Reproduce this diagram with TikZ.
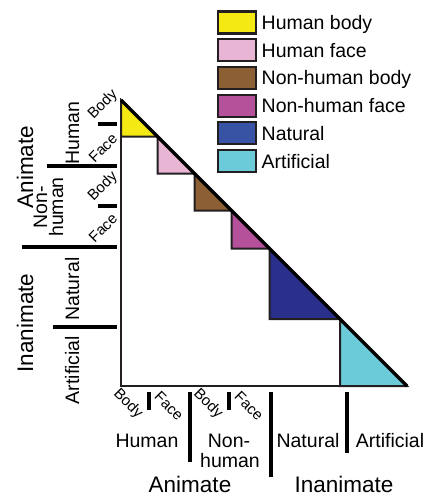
\documentclass[tikz,border=0pt]{standalone}
\usepackage{fontspec}
\setmainfont{Liberation Sans}
\definecolor{edge}{HTML}{231F20}
\definecolor{cyel}{HTML}{F4E912}
\definecolor{cpink}{HTML}{E8B5D5}
\definecolor{cbrown}{HTML}{8D5F35}
\definecolor{cmag}{HTML}{B5509B}
\definecolor{cnatl}{HTML}{3853A3}
\definecolor{cnatt}{HTML}{2B2F8C}
\definecolor{ccyan}{HTML}{6CCBD9}
\begin{document}
\begin{tikzpicture}[x=1pt,y=-1pt,line join=miter,
  lab/.style={font=\fontsize{19.5}{16}\selectfont,inner sep=0pt},
  big/.style={font=\fontsize{22.5}{24}\selectfont,inner sep=0pt},
  small/.style={font=\fontsize{15}{16}\selectfont,inner sep=0pt},
  tickline/.style={line width=3.5pt,draw=black},
  tri/.style={draw=edge,line width=2pt},
  legbox/.style={draw=edge,line width=2.2pt,minimum width=38pt,minimum height=22pt,inner sep=0pt},
]
\useasboundingbox (0,0) rectangle (428,498);
% legend
\foreach \i/\c/\t [count=\k] in {0/cyel/Human body,1/cpink/Human face,2/cbrown/Non-human body,3/cmag/Non-human face,4/cnatl/Natural,5/ccyan/Artificial}{
  \node[legbox,fill=\c] (box\k) at (237,22.5+27.7*\i) {};
  \node[lab,anchor=base west] (leg\k) at (261.5,29.5+27.7*\i) {\t};
}
% main triangle
\coordinate (A) at (121,100);
\coordinate (O) at (121,386);
\coordinate (B) at (407,386);
\coordinate (p1) at (157.5,136.5);
\coordinate (p2) at (194.5,173.5);
\coordinate (p3) at (231.5,210.5);
\coordinate (p4) at (269.5,248.5);
\coordinate (p5) at (340,319);
\draw[tri] (A) -- (O) -- (B);
\filldraw[tri,fill=cyel] (A) -- (121,136.5) -- (p1) -- cycle;
\filldraw[tri,fill=cpink] (p1) -- (157.5,173.5) -- (p2) -- cycle;
\filldraw[tri,fill=cbrown] (p2) -- (194.5,210.5) -- (p3) -- cycle;
\filldraw[tri,fill=cmag] (p3) -- (231.5,248.5) -- (p4) -- cycle;
\filldraw[tri,fill=cnatt] (p4) -- (269.5,319) -- (p5) -- cycle;
\filldraw[tri,fill=ccyan] (p5) -- (340,386) -- (B) -- cycle;
\draw[line width=3.5pt,draw=black] (A) -- (B);
% left axis ticks
\draw[tickline] (98,124) -- (117,124);
\draw[tickline] (47,166) -- (117,166);
\draw[tickline] (98,206) -- (117,206);
\draw[tickline] (22,247) -- (117,247);
\draw[tickline] (53,327) -- (117,327);
% bottom axis ticks
\draw[tickline] (149,392) -- (149,410);
\draw[tickline] (190,392) -- (190,462);
\draw[tickline] (229,392) -- (229,410);
\draw[tickline] (271,392) -- (271,477);
\draw[tickline] (347,392) -- (347,453);
% left labels
\node[small,rotate=45] (lb1) at (103,105) {Body};
\node[small,rotate=45] (lf1) at (103,148) {Face};
\node[small,rotate=45] (lb2) at (103,187) {Body};
\node[small,rotate=45] (lf2) at (103,228) {Face};
\node[lab,rotate=90,anchor=base] (lhum) at (79,133) {Human};
\node[lab,rotate=90,anchor=base] (lnon1) at (47,207) {Non-};
\node[lab,rotate=90,anchor=base] (lnon2) at (63,207) {human};
\node[lab,rotate=90,anchor=base] (lnat) at (79,289) {Natural};
\node[lab,rotate=90,anchor=base] (lart) at (79,370) {Artificial};
\node[big,rotate=90,anchor=base] (lani) at (33,167) {Animate};
\node[big,rotate=90,anchor=base] (lina) at (33,323) {Inanimate};
% bottom labels
\node[small,rotate=-45] (bb1) at (128,404) {Body};
\node[small,rotate=-45] (bf1) at (169,406) {Face};
\node[small,rotate=-45] (bb2) at (208,404) {Body};
\node[small,rotate=-45] (bf2) at (249,406) {Face};
\node[lab,anchor=base] (bhum) at (147,447) {Human};
\node[lab,anchor=base] (bnon1) at (229,447) {Non-};
\node[lab,anchor=base] (bnon2) at (230,467) {human};
\node[lab,anchor=base] (bnat) at (308,447) {Natural};
\node[lab,anchor=base] (bart) at (390,447) {Artificial};
\node[big,anchor=base] (bani) at (190,492) {Animate};
\node[big,anchor=base] (bina) at (344,492) {Inanimate};
\end{tikzpicture}
\end{document}
